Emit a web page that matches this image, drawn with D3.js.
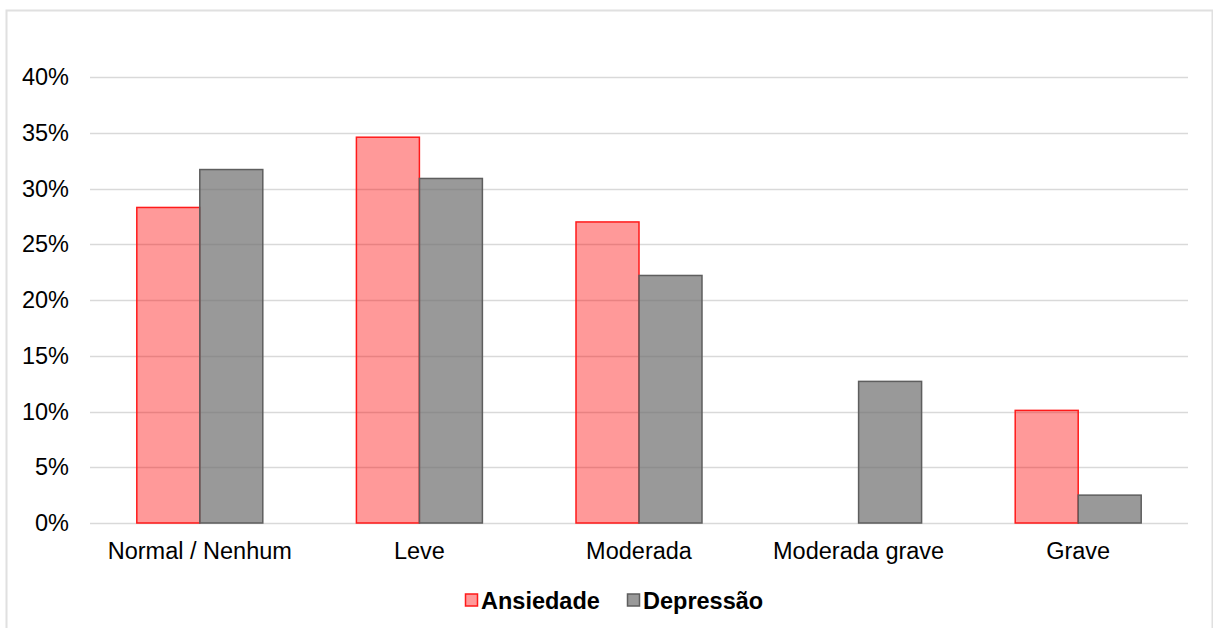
<!DOCTYPE html>
<html>
<head>
<meta charset="utf-8">
<script src="https://cdn.jsdelivr.net/npm/d3@7"></script>
<style>
  html, body { margin: 0; padding: 0; background: #fff; }
  svg { display: block; font-family: "Liberation Sans", Arial, sans-serif; }
</style>
</head>
<body>
<svg id="chart" width="1213" height="628"></svg>
<script>
// Severity levels and share of respondents (fractions)
const categories = ["Normal / Nenhum", "Leve", "Moderada", "Moderada grave", "Grave"];
const ansiedade = [0.283, 0.346, 0.270, 0.0, 0.101];
const depressao = [0.317, 0.309, 0.222, 0.127, 0.025];
const seriesNames = ["Ansiedade", "Depressão"];
const yTicks = [0, 0.05, 0.10, 0.15, 0.20, 0.25, 0.30, 0.35, 0.40];

const seriesStyle = [
  { fill: "rgba(255,0,0,0.4)", stroke: "#ff1a1a" },
  { fill: "rgba(110,110,110,0.7)", stroke: "#5e5e5e" }
];

const FONT = 23.5;
const svg = d3.select("#chart");
const W = 1213, H = 628;
const margin = { left: 90, right: 25, top: 77, bottom: 105 };

// light frame around the chart
svg.append("path")
  .attr("d", `M6.5,${H} V10.5 H${W - 0.5} V${H}`)
  .attr("fill", "none")
  .attr("stroke", "#e0e0e0")
  .attr("stroke-width", 2);

const x0 = d3.scaleBand()
  .domain(categories)
  .range([margin.left, W - margin.right])
  .paddingInner(0)
  .paddingOuter(0);

const x1 = d3.scaleBand()
  .domain(seriesNames)
  .range([0, x0.bandwidth()])
  .paddingInner(0)
  .paddingOuter(0.743);

const y = d3.scaleLinear()
  .domain([0, 0.40])
  .range([H - margin.bottom, margin.top]);

// gridlines
svg.append("g")
  .selectAll("line")
  .data(yTicks)
  .join("line")
  .attr("x1", margin.left)
  .attr("x2", W - margin.right)
  .attr("y1", d => Math.round(y(d)) + 0.5)
  .attr("y2", d => Math.round(y(d)) + 0.5)
  .attr("stroke", "#d9d9d9")
  .attr("stroke-width", 1.5);

// y axis labels
const yAxis = d3.axisLeft(y)
  .tickValues(yTicks)
  .tickFormat(d3.format(".0%"))
  .tickSize(0)
  .tickPadding(21);
const gy = svg.append("g")
  .attr("transform", `translate(${margin.left},0)`)
  .call(yAxis);
gy.select(".domain").remove();
gy.selectAll("text")
  .attr("font-size", FONT)
  .attr("fill", "#000")
  .attr("font-family", "Liberation Sans, Arial, sans-serif");

// x axis labels
const xAxis = d3.axisBottom(x0).tickSize(0).tickPadding(19);
const gx = svg.append("g")
  .attr("transform", `translate(0,${H - margin.bottom})`)
  .call(xAxis);
gx.select(".domain").remove();
gx.selectAll("text")
  .attr("font-size", FONT)
  .attr("fill", "#000")
  .attr("font-family", "Liberation Sans, Arial, sans-serif");

// bars
const rows = categories.map((c, i) => ({ cat: c, values: [ansiedade[i], depressao[i]] }));
const groups = svg.append("g")
  .selectAll("g")
  .data(rows)
  .join("g")
  .attr("transform", d => `translate(${x0(d.cat)},0)`);

groups.selectAll("rect")
  .data(d => d.values.map((v, k) => ({ v, k, name: seriesNames[k] })).filter(e => e.v > 0))
  .join("rect")
  .attr("x", d => x1(d.name))
  .attr("width", x1.bandwidth())
  .attr("y", d => y(d.v))
  .attr("height", d => y(0) - y(d.v))
  .attr("fill", d => seriesStyle[d.k].fill)
  .attr("stroke", d => seriesStyle[d.k].stroke)
  .attr("stroke-width", 1.5);

// legend
const legend = svg.append("g").attr("transform", "translate(465,600)");
const legendX = [0, 162];
seriesNames.forEach((name, k) => {
  const g = legend.append("g").attr("transform", `translate(${legendX[k]},0)`);
  g.append("rect")
    .attr("x", 0.5).attr("y", -6)
    .attr("width", 12).attr("height", 12)
    .attr("fill", seriesStyle[k].fill)
    .attr("stroke", seriesStyle[k].stroke)
    .attr("stroke-width", 1.5);
  g.append("text")
    .attr("x", 16).attr("y", 8.5)
    .attr("font-size", FONT)
    .attr("font-weight", "bold")
    .attr("fill", "#000")
    .text(name);
});
</script>
</body>
</html>
